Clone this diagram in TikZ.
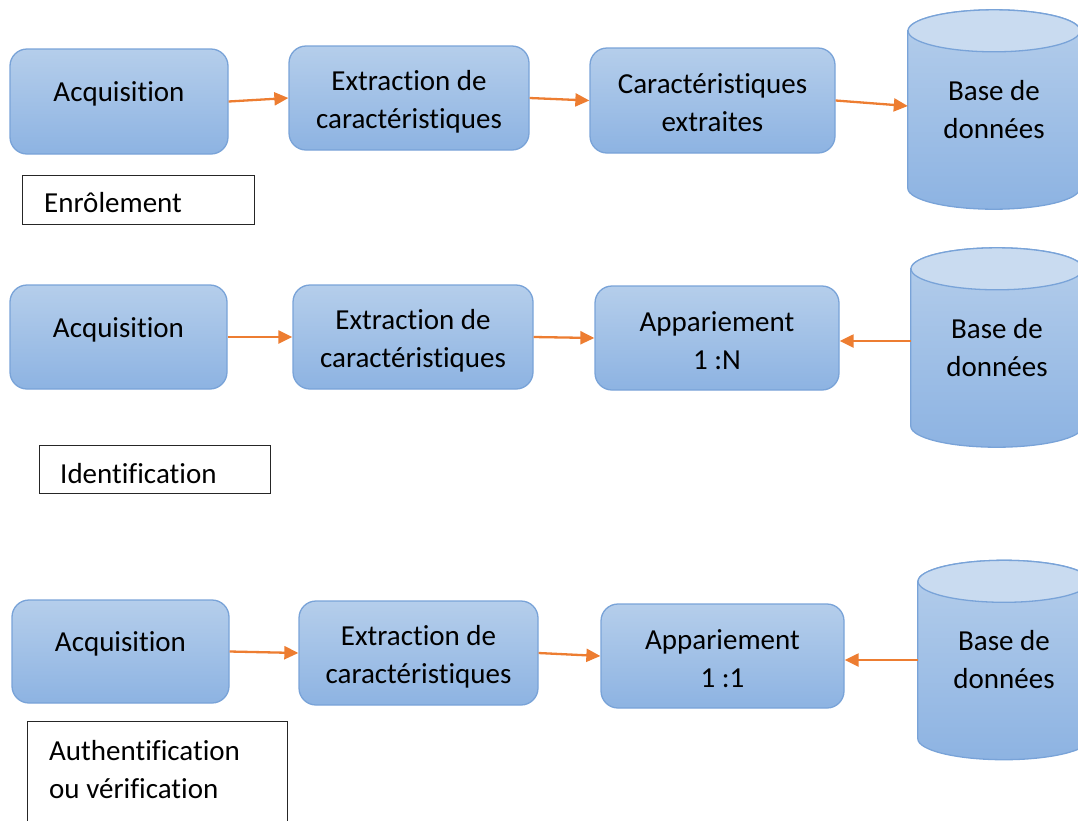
\documentclass[tikz,border=0pt]{standalone}
\usepackage{fontspec}
\setmainfont{Carlito}[Ligatures=NoCommon]
\usetikzlibrary{arrows.meta,calc}
\definecolor{boxtop}{HTML}{B5CEEB}
\definecolor{boxbot}{HTML}{8DB3E2}
\definecolor{boxline}{HTML}{79A3D8}
\definecolor{cyltopc}{HTML}{C9DBF0}
\definecolor{arrowc}{HTML}{ED7D31}
\newcommand\upstrut[1]{\rule{0pt}{#1pt}}
\tikzset{
  blkbox/.style={rectangle, rounded corners=17pt, draw=boxline, line width=1.3pt,
    top color=boxtop, bottom color=boxbot, align=center, inner sep=0pt,
    font=\fontsize{29}{38}\selectfont},
  oneline/.style={text height=10pt, text depth=10pt},
  dbnode/.style={rectangle, inner sep=0pt, minimum width=172pt, minimum height=199pt,
    align=center, font=\fontsize{29}{38}\selectfont},
  cylbody/.style={draw=boxline, line width=1.3pt, top color=boxtop, bottom color=boxbot},
  cyltop/.style={draw=boxline, line width=1.3pt, fill=cyltopc},
  lblbox/.style={rectangle, draw=black!85, line width=1.1pt, inner sep=0pt, anchor=north west},
  lbltext/.style={anchor=base west, inner sep=0pt, font=\fontsize{29}{38}\selectfont, align=left},
  arr/.style={-{Triangle[length=14pt,width=13pt]}, line width=2.3pt, draw=arrowc}
}
\newcommand\drawcyl[1]{%
  \path[cylbody] ([yshift=-21pt]#1.north west) -- ([yshift=21pt]#1.south west)
    arc[start angle=180, end angle=360, x radius=86pt, y radius=21pt]
    -- ([yshift=-21pt]#1.north east)
    arc[start angle=0, end angle=180, x radius=86pt, y radius=21pt] -- cycle;
  \path[cyltop] ([yshift=-21pt]#1.north) ellipse[x radius=86pt, y radius=21pt];
}
\begin{document}
\begin{tikzpicture}[x=1pt,y=-1pt]
\useasboundingbox (0,0) rectangle (1078,820);
\clip (0,0) rectangle (1078,820);

% Row 1 : Enrolement
\node[blkbox, oneline, minimum width=218pt, minimum height=105pt] (acq1) at (119,101.5) {Acquisition};
\node[blkbox, minimum width=240pt, minimum height=104pt] (ext1) at (409,98) {\upstrut{28}Extraction de\\caractéristiques};
\node[blkbox, minimum width=245pt, minimum height=105pt] (car1) at (712.5,100.5) {\upstrut{24}Caractéristiques\\extraites};
\node[dbnode] (db1) at (994,109.5) {};
\drawcyl{db1}
\node[dbnode] at (db1.center) {Base de\\données};
\node[lblbox, minimum width=232pt, minimum height=49pt] (enr) at (22,175) {};
\node[lbltext] (enrt) at (44,212) {Enrôlement};

\draw[arr] (acq1.east) -- (ext1.west);
\draw[arr] (ext1.east) -- (car1.west);
\draw[arr] (car1.east) -- ([yshift=3.5pt]db1.west);

% Row 2 : Identification
\node[blkbox, oneline, minimum width=217pt, minimum height=104pt] (acq2) at (118.5,337) {Acquisition};
\node[blkbox, minimum width=240pt, minimum height=104pt] (ext2) at (413,337) {\upstrut{28}Extraction de\\caractéristiques};
\node[blkbox, minimum width=244pt, minimum height=104pt] (app2) at (717,338) {\upstrut{25}Appariement\\1 :N};
\node[dbnode] (db2) at (997,347.5) {};
\drawcyl{db2}
\node[dbnode] at (db2.center) {Base de\\données};
\node[lblbox, minimum width=231pt, minimum height=48pt] (idf) at (39,445) {};
\node[lbltext] (idft) at (60,483) {Identification};

\draw[arr] (acq2.east) -- (ext2.west);
\draw[arr] (ext2.east) -- (app2.west);
\draw[arr] ([yshift=6.5pt]db2.west) -- ([yshift=6.5pt]db2.west -| app2.east);

% Row 3 : Authentification
\node[blkbox, oneline, minimum width=217pt, minimum height=103pt] (acq3) at (120.5,651.5) {Acquisition};
\node[blkbox, minimum width=239pt, minimum height=104pt] (ext3) at (418.5,653) {\upstrut{28}Extraction de\\caractéristiques};
\node[blkbox, minimum width=243pt, minimum height=104pt] (app3) at (722.5,656) {\upstrut{26}Appariement\\1 :1};
\node[dbnode] (db3) at (1004,660) {};
\drawcyl{db3}
\node[dbnode] at (db3.center) {Base de\\données};
\node[lblbox, minimum width=260pt, minimum height=120pt] (auth) at (27,721) {};
\node[lbltext] (autht) at (49,798) {Authentification\\ou vérification};

\draw[arr] (acq3.east) -- (ext3.west);
\draw[arr] (ext3.east) -- (app3.west);
\draw[arr] (db3.west) -- (db3.west -| app3.east);
\end{tikzpicture}
\end{document}
